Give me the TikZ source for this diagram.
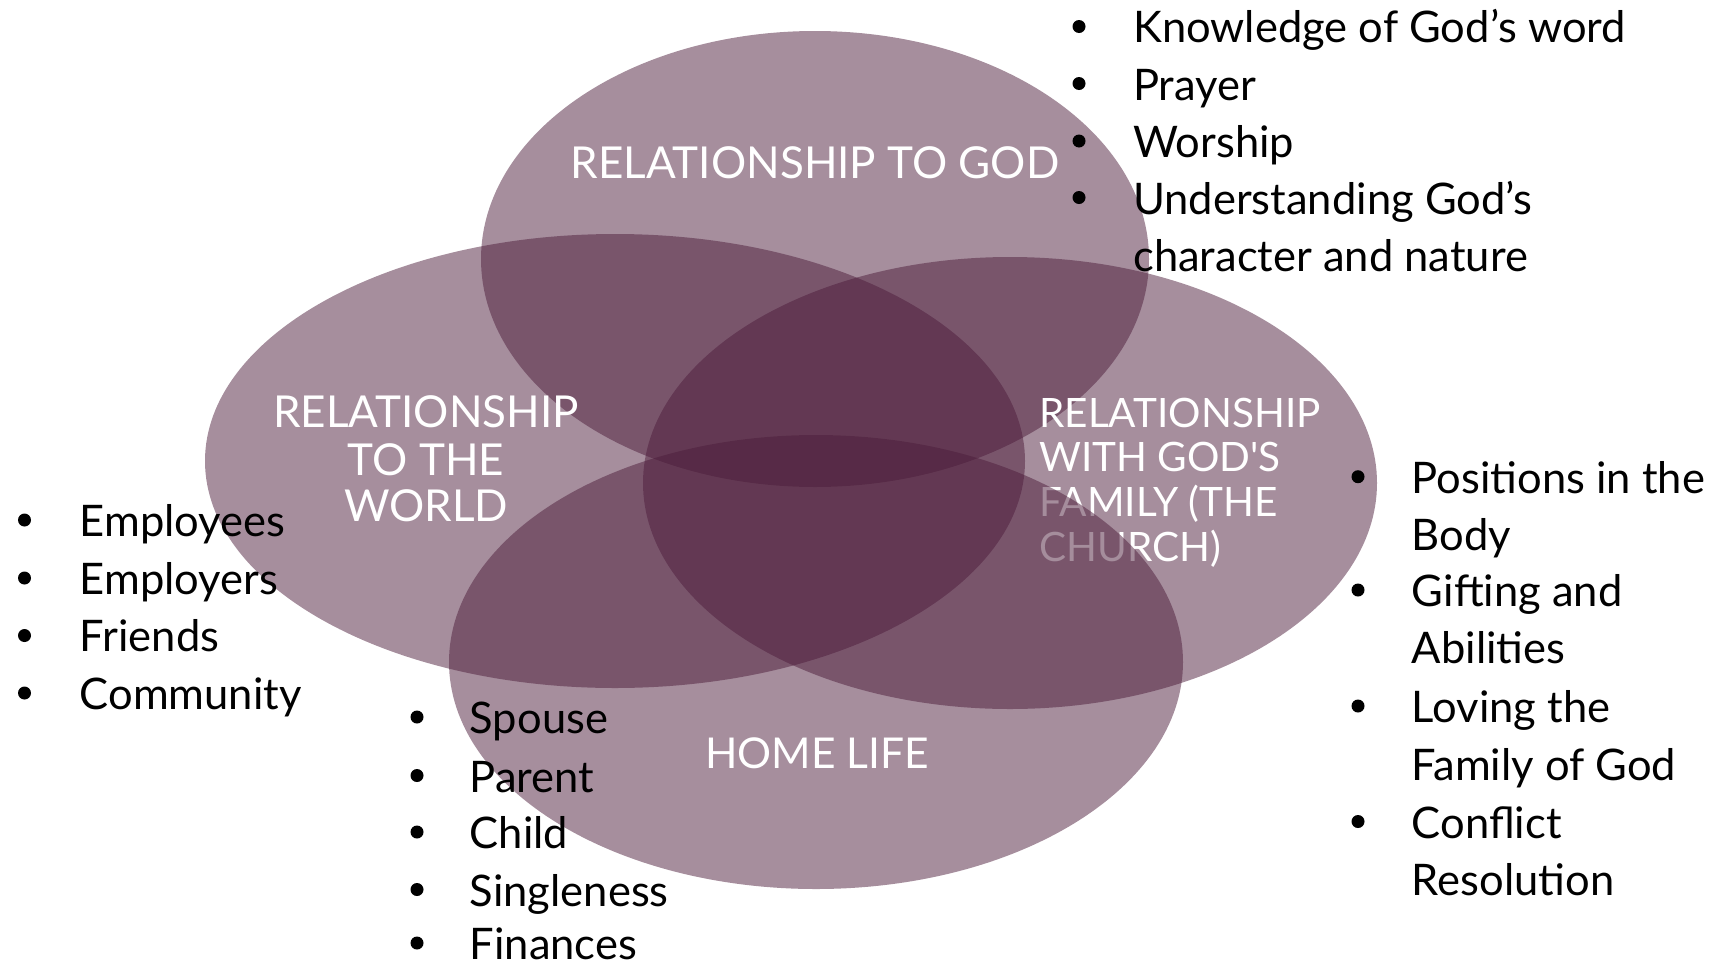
\documentclass[tikz,border=0pt]{standalone}
\usepackage{fontspec}
\setmainfont{Lato}
\usetikzlibrary{shapes.geometric}
\definecolor{plum}{RGB}{77,29,59}
\tikzset{
  venn/.style={ellipse, fill=plum, fill opacity=0.5, draw=none, inner sep=0, outer sep=0},
  wlabel/.style={text=white, inner sep=0, font=\fontsize{44}{47}\selectfont},
  clabel/.style={text=white, inner sep=0, anchor=base west, font=\fontsize{40.5}{44.6}\selectfont},
  item/.style={anchor=base west, inner sep=0, text=black, font=\fontsize{43.5}{57}\selectfont},
  bul/.style={circle, fill=black, inner sep=0, minimum size=13},
}
\begin{document}
\begin{tikzpicture}[x=1pt,y=-1pt]
\useasboundingbox (0,0) rectangle (1721,967);
% ellipses and their labels
\node[venn, minimum width=668, minimum height=456] (god) at (815,259) {};
\node[wlabel, anchor=base] (godlab) at (815,178) {RELATIONSHIP TO GOD};
\node[venn, minimum width=820, minimum height=454] (world) at (615,461) {};
\node[wlabel, anchor=base] (wl1) at (426,427.5) {RELATIONSHIP};
\node[wlabel, anchor=base] (wl2) at (426,475) {TO THE};
\node[wlabel, anchor=base] (wl3) at (426,521.5) {WORLD};
\node[venn, minimum width=734, minimum height=452] (church) at (1010,483) {};
\node[clabel] (cl1) at (1039,427.3) {RELATIONSHIP};
\node[clabel] (cl2) at (1039,471.7) {WITH GOD\textquotesingle S};
\node[clabel] (cl3) at (1039,516.7) {FAMILY (THE};
\node[clabel] (cl4) at (1039,561) {CHURCH)};
\node[venn, minimum width=734, minimum height=454] (home) at (816,662) {};
\node[wlabel, anchor=base, font=\fontsize{42.5}{47}\selectfont] (homelab) at (817,768.5) {HOME LIFE};
% top list
\node[bul] (tb1) at (1079,26.5) {};
\node[item] (t1) at (1133,42.7) {Knowledge of God’s word};
\node[bul] (tb2) at (1079,83.5) {};
\node[item] (t2) at (1133,100) {Prayer};
\node[bul] (tb3) at (1079,141) {};
\node[item] (t3) at (1133,157.6) {Worship};
\node[bul] (tb4) at (1079,197.5) {};
\node[item] (t4) at (1133,214) {Understanding God’s};
\node[item] (t5) at (1133,271.6) {character and nature};
% left list
\node[bul] (lb1) at (24.5,520) {};
\node[item] (l1) at (79.5,536.7) {Employees};
\node[bul] (lb2) at (24.5,578) {};
\node[item] (l2) at (79.5,594.4) {Employers};
\node[bul] (lb3) at (24.5,635.5) {};
\node[item] (l3) at (79.5,651.8) {Friends};
\node[bul] (lb4) at (24.5,693) {};
\node[item] (l4) at (79.5,709.5) {Community};
% home list
\node[bul] (hb1) at (417,717) {};
\node[item] (h1) at (469.6,733.5) {Spouse};
\node[bul] (hb2) at (417,775.5) {};
\node[item] (h2) at (469.6,792) {Parent};
\node[bul] (hb3) at (417,832) {};
\node[item] (h3) at (469.6,848.6) {Child};
\node[bul] (hb4) at (417,889.5) {};
\node[item] (h4) at (469.6,906) {Singleness};
\node[bul] (hb5) at (417,943) {};
\node[item] (h5) at (469.6,959) {Finances};
% right list
\node[bul] (rb1) at (1358,476.7) {};
\node[item] (r1) at (1411.7,493.3) {Positions in the};
\node[item] (r2) at (1411.7,550) {Body};
\node[bul] (rb2) at (1358,590) {};
\node[item] (r3) at (1411.7,606.7) {Gifting and};
\node[item] (r4) at (1411.7,663.3) {Abilities};
\node[bul] (rb3) at (1358,706) {};
\node[item] (r5) at (1411.7,722.7) {Loving the};
\node[item] (r6) at (1411.7,780) {Family of God};
\node[bul] (rb4) at (1358,821.5) {};
\node[item] (r7) at (1411.7,838.3) {Conflict};
\node[item] (r8) at (1411.7,895) {Resolution};
\end{tikzpicture}
\end{document}
